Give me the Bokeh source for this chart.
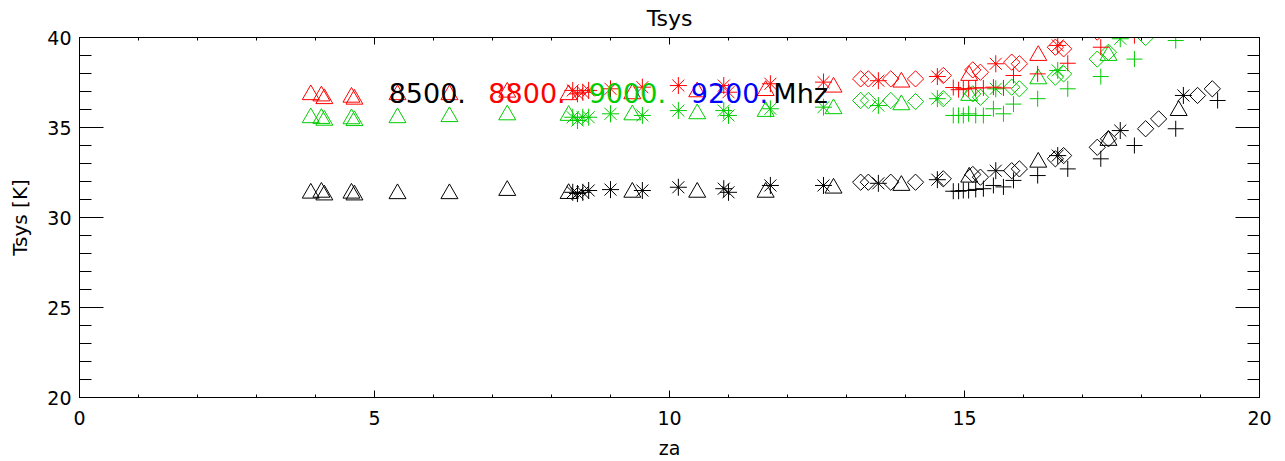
from bokeh.plotting import figure
from bokeh.models import LinearAxis, Range1d, Label, FixedTicker, CustomLabelingPolicy
from bokeh.embed import file_html
from bokeh.resources import INLINE

nan = float("nan")

# ---- data ----
freq_labels = ["8500.", "8800.", "9000.", "9200.", "Mhz"]
freq_colors = ["black", "#ff0000", "#00cc00", "#0000ff", "black"]

# triangles
tri_za = [3.92, 4.10, 4.15, 4.61, 4.66, 5.39, 6.27, 7.25, 8.29, 9.37, 10.47, 11.63, 12.78, 13.93, 15.08, 16.25, 17.44, 18.63]
tri_8500 = [31.35, 31.40, 31.25, 31.35, 31.25, 31.32, 31.32, 31.50, 31.33, 31.40, 31.40, 31.40, 31.63, 31.78, 32.24, 33.07, 34.28, 35.94]
tri_8800 = [36.82, 36.75, 36.60, 36.68, 36.57, 36.82, 36.82, 36.96, 36.82, 36.87, 36.98, 37.05, 37.24, 37.52, 37.89, 39.00, nan, nan]
tri_9000 = [35.54, 35.50, 35.40, 35.48, 35.38, 35.54, 35.60, 35.70, 35.67, 35.70, 35.76, 35.89, 36.04, 36.26, 36.78, 37.70, 39.00, nan]

# asterisks
ast_za = [8.36, 8.44, 8.53, 8.63, 9.00, 9.54, 10.15, 10.92, 11.00, 11.71, 12.61, 13.54, 14.54, 15.53, 16.58, 17.64, 18.71]
ast_8500 = [31.40, 31.33, 31.40, 31.50, 31.55, 31.50, 31.68, 31.60, 31.40, 31.78, 31.78, 31.90, 32.10, 32.60, 33.44, 34.83, 36.78]
ast_8800 = [37.06, 36.87, 36.96, 37.06, 37.15, 37.24, 37.33, 37.33, 36.96, 37.43, 37.52, 37.60, 37.83, 38.54, 39.56, nan, nan]
ast_9000 = [35.57, 35.39, 35.57, 35.57, 35.76, 35.67, 35.94, 35.94, 35.67, 36.04, 36.13, 36.22, 36.60, 37.15, 38.17, 39.93, nan]

# diamonds
dia_za = [13.24, 13.37, 13.75, 14.17, 14.64, 15.14, 15.27, 15.80, 15.93, 16.54, 16.68, 17.25, 17.44, 18.07, 18.29, 18.95, 19.20]
dia_8500 = [31.96, 31.96, 31.96, 31.96, 32.15, 32.39, 32.24, 32.60, 32.70, 33.26, 33.44, 33.90, 34.37, 34.93, 35.48, 36.78, 37.15]
dia_8800 = [37.70, 37.70, 37.70, 37.70, 37.89, 38.20, 38.07, 38.63, 38.54, 39.46, 39.37, 40.30, nan, nan, nan, nan, nan]
dia_9000 = [36.50, 36.50, 36.50, 36.44, 36.60, 36.87, 36.68, 37.24, 37.15, 37.80, 37.98, 38.80, 39.18, 40.00, nan, nan, nan]

# plus signs
pls_za = [14.81, 14.90, 14.98, 15.07, 15.19, 15.32, 15.49, 15.66, 15.83, 16.24, 16.75, 17.31, 17.88, 18.58, 19.29]
pls_8500 = [31.46, 31.46, 31.50, 31.50, 31.56, 31.60, 31.78, 31.70, 32.06, 32.33, 32.70, 33.26, 34.00, 34.93, 36.50]
pls_8800 = [37.22, 37.10, 37.15, 37.15, 37.20, 37.20, 37.24, 37.20, 37.89, 37.98, 38.57, 39.46, 40.10, nan, nan]
pls_9000 = [35.67, 35.67, 35.67, 35.76, 35.67, 35.67, 36.04, 35.76, 36.30, 36.60, 37.15, 37.83, 38.80, 39.83, nan]

x_major = [0, 5, 10, 15, 20]
y_major = [20, 25, 30, 35, 40]

FONT = "DejaVu Sans"

p = figure(width=1277, height=461, x_range=Range1d(0, 20), y_range=Range1d(20, 40),
           output_backend="svg", toolbar_location=None,
           min_border_left=79, min_border_right=18, min_border_top=37, min_border_bottom=64,
           x_axis_label="za", y_axis_label="Tsys [K]", title="Tsys")
p.title.align = "center"
p.title.text_font = FONT
p.title.text_font_size = "22px"
p.title.text_font_style = "normal"
p.title.text_color = "black"
p.title.standoff = 6
p.xgrid.visible = False
p.ygrid.visible = False
p.outline_line_color = "black"
p.background_fill_color = "white"
p.border_fill_color = "white"

xt = FixedTicker(ticks=x_major, minor_ticks=list(range(0, 21)))
yt = FixedTicker(ticks=y_major, minor_ticks=list(range(20, 41)))

no_labels = CustomLabelingPolicy(code="return new Set()")
top_axis = LinearAxis(major_label_policy=no_labels)
right_axis = LinearAxis(major_label_policy=no_labels)
p.add_layout(top_axis, "above")
p.add_layout(right_axis, "right")

for ax in p.xaxis:
    ax.ticker = xt
    ax.major_tick_in = 7
    ax.major_tick_out = 0
    ax.minor_tick_in = 3
    ax.minor_tick_out = 0
for ax in p.yaxis:
    ax.ticker = yt
    ax.major_tick_in = 24
    ax.major_tick_out = 0
    ax.minor_tick_in = 12
    ax.minor_tick_out = 0

for ax in list(p.xaxis) + list(p.yaxis):
    ax.axis_line_color = "black"
    ax.major_tick_line_color = "black"
    ax.minor_tick_line_color = "black"
    ax.major_label_text_font = FONT
    ax.major_label_text_font_size = "19px"
    ax.major_label_text_color = "black"
    ax.axis_label_text_font = FONT
    ax.axis_label_text_font_size = "19px"
    ax.axis_label_text_font_style = "normal"
    ax.axis_label_text_color = "black"

for ax in (top_axis, right_axis):
    ax.major_label_standoff = 0
    ax.major_label_text_font_size = "1px"

p.below[0].major_label_standoff = 13
p.below[0].axis_label_standoff = 9
p.left[0].major_label_standoff = 8
p.left[0].axis_label_standoff = 12
p.left[0].axis_label_text_font_size = "20px"

colors = {8500: "black", 8800: "#ff0000", 9000: "#00cc00"}

def draw(za, vals, marker, size, color, angle=0.0):
    p.scatter(za, vals, marker=marker, size=size, angle=angle,
              fill_color=None, line_color=color, line_width=1)

for za, v85, v88, v90, mk, sz, ang in [
        (tri_za, tri_8500, tri_8800, tri_9000, "triangle", 17, 0.0),
        (ast_za, ast_8500, ast_8800, ast_9000, "asterisk", 17, 0.0),
        (dia_za, dia_8500, dia_8800, dia_9000, "square", 11.5, 0.785398),
        (pls_za, pls_8500, pls_8800, pls_9000, "cross", 16, 0.0)]:
    draw(za, v85, mk, sz, colors[8500], ang)
    draw(za, v88, mk, sz, colors[8800], ang)
    draw(za, v90, mk, sz, colors[9000], ang)

label_x = [5.24, 6.93, 8.63, 10.36, 11.76]
for txt, col, lx in zip(freq_labels, freq_colors, label_x):
    p.add_layout(Label(x=lx, y=36.89, text=txt, text_color=col, text_font=FONT,
                       text_font_size="27px", text_baseline="alphabetic", text_align="left"))

open("out.html", "w").write(file_html(p, INLINE))
